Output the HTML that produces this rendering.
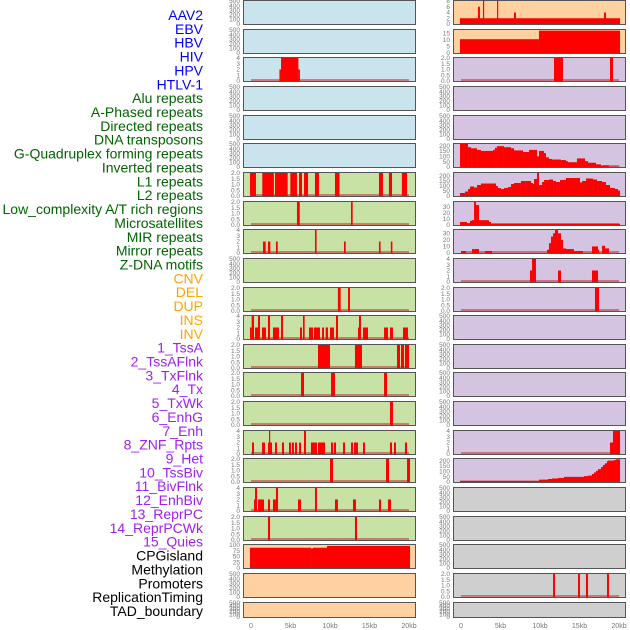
<!DOCTYPE html>
<html><head><meta charset="utf-8"><style>
html,body{margin:0;padding:0;background:#fff;}
svg{display:block;font-family:"Liberation Sans",sans-serif;}
</style></head><body>
<svg id="chart" width="630" height="630" viewBox="0 0 630 630" xmlns="http://www.w3.org/2000/svg"></svg>
<script>
// ---------- labels ----------
const labelNames = ["AAV2","EBV","HBV","HIV","HPV","HTLV-1","Alu repeats","A-Phased repeats","Directed repeats","DNA transposons","G-Quadruplex forming repeats","Inverted repeats","L1 repeats","L2 repeats","Low_complexity A/T rich regions","Microsatellites","MIR repeats","Mirror repeats","Z-DNA motifs","CNV","DEL","DUP","INS","INV","1_TssA","2_TssAFlnk","3_TxFlnk","4_Tx","5_TxWk","6_EnhG","7_Enh","8_ZNF_Rpts","9_Het","10_TssBiv","11_BivFlnk","12_EnhBiv","13_ReprPC","14_ReprPCWk","15_Quies","CPGisland","Methylation","Promoters","ReplicationTiming","TAD_boundary"];
const labelGroups = [0,0,0,0,0,0,1,1,1,1,1,1,1,1,1,1,1,1,1,2,2,2,2,2,3,3,3,3,3,3,3,3,3,3,3,3,3,3,3,4,4,4,4,4];
const groupColors = ["#0000ff","#006400","#ffa500","#a020f0","#000000"];

// ---------- x axis ----------
const xTicks = [0,5,10,15,20];
const xTickLabels = ["0","5kb","10kb","15kb","20kb"];

// ---------- panel backgrounds per row (left, right) ----------
const leftBg  = ["b","b","b","b","b","b","g","g","g","g","g","g","g","g","g","g","g","g","g","o","o","o"];
const rightBg = ["o","o","p","p","p","p","p","p","p","p","p","p","p","p","p","p","p","r","r","r","r","r"];
const bgColors = {b:"#c9e4ec",o:"#ffd0a0",g:"#c8e1a5",p:"#d5c4e1",r:"#cfcfcf"};

// ---------- y maxima per row ----------
const leftYmax  = [500,500,4,500,500,500,2,2,4,500,2,4,2,2,2,4,2,4,2,100,500,500];
const rightYmaxFix = [8,17.5,2,500,500,215,230,38,35,4,2,500,500,500,500,4,215,500,500,500,2,500];

// ---------- bar data (start kb, end kb, value) ----------
const L2_hiv = [[3.6,3.8,2],[3.8,6.0,4],[6.0,6.2,2]];
const L6_l1 = [[-0.13,0.63,2],[1.43,2.9,2],[3.04,4.64,2],[4.98,5.82,2],[6.08,6.46,2],[6.71,7.22,2],[8.1,8.6,2],[10.63,11.2,2],[16.2,16.7,2],[17.46,17.85,2],[19.1,19.75,2]];
const L7_l2 = [[5.82,6.17,2],[12.66,12.87,2]];
const L8_low = [[1.52,1.86,2],[2.15,2.45,2],[3.16,3.38,2],[8.1,8.3,4],[11.77,11.99,2],[16.2,16.4,2],[17.7,17.9,2]];
const L10_mir = [[11.0,11.35,2],[12.28,12.53,2]];
const L11_z = [[-0.13,0.08,2],[0.08,0.38,4],[0.51,0.89,2],[0.89,1.14,4],[1.39,1.9,2],[2.15,2.41,4],[2.78,3.54,2],[3.8,4.05,4],[6.2,6.46,2],[6.58,6.79,4],[7.34,7.85,2],[7.97,8.73,2],[8.99,9.24,2],[9.45,9.75,2],[10.0,10.5,2],[10.76,11.01,4],[13.54,13.67,2],[13.67,13.92,4],[14.18,14.81,2],[16.84,17.34,2],[17.59,17.97,2],[19.24,19.87,2]];
const L12_cnv = [[8.48,10.0,2],[13.16,14.05,2],[18.48,18.86,2],[18.99,19.37,2],[19.49,20.0,2]];
const L13_del = [[6.33,6.71,2],[10.13,10.63,2],[16.84,17.22,2]];
const L14_dup = [[17.59,17.97,2]];
const L15_ins = [[0.13,0.38,2],[1.39,1.77,2],[2.15,2.28,2],[2.28,2.41,4],[2.41,2.66,2],[3.04,3.29,2],[3.92,4.18,2],[4.81,5.06,2],[5.19,5.44,2],[5.57,5.82,2],[6.08,6.33,2],[6.71,6.96,4],[7.59,8.35,2],[8.48,9.37,2],[10.13,10.38,2],[10.5,10.76,2],[11.65,11.9,2],[12.66,12.91,2],[13.04,13.54,2],[14.18,14.43,2],[17.59,17.85,2],[18.1,18.35,2],[19.49,19.75,2]];
const L16_inv = [[10.0,10.38,2],[17.09,17.47,2],[19.75,20.13,2]];
const L17_tssa = [[0.38,0.51,2],[0.51,0.76,4],[0.89,1.65,2],[2.15,2.41,2],[2.78,3.16,2],[3.16,3.42,4],[5.95,6.33,2],[8.1,8.35,4],[10.63,11.01,2],[12.91,13.29,2],[16.2,16.46,2],[17.34,17.72,2]];
const L18_flnk = [[2.15,2.41,2],[13.16,13.42,2]];
const L19_cpg = [[-0.13,7.59,88],[7.59,7.85,85],[7.85,9.62,88],[9.62,20.13,96]];

const R0_aav = [[-0.13,20.13,2],[2.15,2.4,6],[2.78,2.91,8],[4.56,4.68,8],[6.71,6.96,4],[18.1,18.35,4]];
const R1_ebv = [[-0.13,9.87,10.5],[9.87,20.13,17]];
const R2_hiv = [[11.77,12.91,2],[18.86,19.24,2]];
const R9_mir = [[8.73,8.99,2],[8.99,9.49,4],[12.28,12.66,2],[16.58,17.34,2]];
const R10_mirror = [[16.96,17.47,2]];
const R15_znf = [[18.86,19.24,2],[19.24,20.13,4]];
const R20_prom = [[11.65,11.9,2],[14.81,15.06,2],[15.82,16.08,2],[18.48,18.73,2]];

// ---------- step-profile data (starts kb, values) ----------
const R5_starts = [-0.13,0.89,1.27,2.03,2.53,4.05,4.3,4.56,5.44,6.33,6.71,7.85,8.61,9.62,9.87,10.51,10.76,11.14,11.52,12.66,13.29,13.54,14.68,15.7,16.08,17.09,17.72,17.97,18.73];
const R5_vals   = [215,185,175,160,150,160,180,195,185,175,155,140,160,100,150,130,90,75,70,65,55,45,80,55,40,25,10,15,3];
const R6_starts = [-0.13,0.51,0.89,1.14,1.65,2.03,2.53,4.43,4.68,5.06,5.44,5.95,6.33,6.71,7.59,8.86,9.11,9.24,9.62,9.87,10.25,10.51,11.14,11.65,12.03,12.53,13.29,15.06,15.32,15.82,16.71,17.22,17.85,18.35,18.86,19.49,19.87];
const R6_vals   = [30,45,70,95,85,110,125,100,80,70,80,90,120,130,150,130,120,170,230,110,140,160,165,150,140,160,180,135,150,175,165,150,140,110,80,70,55];
const R7_starts = [-0.13,0.76,1.14,1.39,1.65,1.9,2.28,2.91,3.54,3.8];
const R7_vals   = [5,3,7,8,38,33,8,8,5,2];
const R8_starts = [0,0.63,1.39,2.28,3.04,3.92,10.89,11.14,11.39,11.65,11.9,12.28,12.66,12.91,13.29,14.3,15.44,16.58,17.34,17.47,17.85,18.23,18.73];
const R8_vals   = [3,0,6,0,3,0,5,15,25,30,35,30,20,7,6,3,0,10,5,0,11,7,0];
const R16_starts = [-0.13,9.87,11.01,11.52,12.28,13.04,15.57,16.08,16.58,16.84,17.09,17.34,17.72,17.97,18.23,18.48,18.61,19.37,19.62];
const R16_vals   = [12,22,28,33,38,48,55,60,75,90,105,120,140,160,175,195,200,205,212];
const stepEnd = 20.13;

// ---------- tick sets ----------
const ticks500 = [0,100,200,300,400,500];
const ticks2 = [0,0.5,1,1.5,2];
const ticks4 = [0,1,2,3,4];

function steps(starts, vals){
  const out=[];
  for(let i=0;i<starts.length;i++){
    const e = i<starts.length-1 ? starts[i+1] : stepEnd;
    if(vals[i]>0) out.push([starts[i],e,vals[i]]);
  }
  return out;
}

const leftBars = {2:L2_hiv,6:L6_l1,7:L7_l2,8:L8_low,10:L10_mir,11:L11_z,12:L12_cnv,13:L13_del,14:L14_dup,15:L15_ins,16:L16_inv,17:L17_tssa,18:L18_flnk,19:L19_cpg};
const rightBars = {0:R0_aav,1:R1_ebv,2:R2_hiv,5:steps(R5_starts,R5_vals),6:steps(R6_starts,R6_vals),7:steps(R7_starts,R7_vals),8:steps(R8_starts,R8_vals),9:R9_mir,10:R10_mirror,15:R15_znf,16:steps(R16_starts,R16_vals),20:R20_prom};
const leftBase = [2,6,7,8,10,11,12,13,14,15,16,17,18];
const rightBase = [2,5,7,8,9,10,15,20];

const leftTicks = {0:ticks500,1:ticks500,2:ticks4,3:ticks500,4:ticks500,5:ticks500,6:ticks2,7:ticks2,8:ticks4,9:ticks500,10:ticks2,11:ticks4,12:ticks2,13:ticks2,14:ticks2,15:ticks4,16:ticks2,17:ticks4,18:ticks2,19:[0,25,50,75,100],20:ticks500,21:ticks500};
const rightTicks = {0:[0,2,4,6,8],1:[0,5,10,15],2:ticks2,3:ticks500,4:ticks500,5:[0,50,100,150,200],6:[0,50,100,150,200],7:[0,10,20,30],8:[0,10,20,30],9:ticks4,10:ticks2,11:ticks500,12:ticks500,13:ticks500,14:ticks500,15:ticks4,16:[0,50,100,150,200],17:ticks500,18:ticks500,19:ticks500,20:ticks2,21:ticks500};

const svg = document.getElementById('chart');
const NS = "http://www.w3.org/2000/svg";
function mk(tag, attrs, parent){
  const el = document.createElementNS(NS, tag);
  for(const k in attrs) el.setAttribute(k, attrs[k]);
  (parent||svg).appendChild(el);
  return el;
}

labelNames.forEach((n,i)=>{
  const t = mk('text',{x:203,y:15+i*13.86+5,'text-anchor':'end','font-size':14,fill:groupColors[labelGroups[i]]});
  t.textContent = n;
  
  
});

const cols = [{x:243,w:173,x0:251},{x:453,w:173,x0:461}];
const kbPx = 7.9;
function rowTop(i){ return Math.round(i*28.65); }
function rowH(i){ return i===21 ? 16 : 25; }

for(let c=0;c<2;c++){
  const col = cols[c];
  const xs = kb => col.x0 + kb*kbPx;
  for(let r=0;r<22;r++){
    const T = rowTop(r), H = rowH(r);
    const bg = c===0 ? leftBg[r] : rightBg[r];
    const ymax = c===0 ? leftYmax[r] : rightYmaxFix[r];
    const ys = v => T+H-1 - v/ymax*(H-2);
    const g = mk('g',{});
    
    
    const bgR = mk('rect',{x:col.x,y:T,width:col.w,height:H,fill:bgColors[bg]},g);
    
    
    const base = c===0 ? leftBase : rightBase;
    if(base.includes(r)){
      const bl = mk('rect',{x:xs(0),y:T+H-3,width:20*kbPx,height:2,fill:'#c04040',opacity:0.6},g);
      
      
    }
    const bars = (c===0 ? leftBars : rightBars)[r] || [];
    bars.forEach(b=>{
      const y = ys(b[2]);
      const x1 = xs(b[0]), x2 = xs(b[1]);
      const br = mk('rect',{x:x1,y:y,width:Math.max(1.2,x2-x1),height:T+H-1-y,fill:'#ff0000'},g);
      
      
    });
    const fr = mk('rect',{x:col.x+0.5,y:T+0.5,width:col.w-1,height:H-1,fill:'none',stroke:'#555',"stroke-width":1},g);
    
    
    const tk = (c===0 ? leftTicks : rightTicks)[r];
    tk.forEach(v=>{
      const t = mk('text',{x:col.x-3,y:ys(v)+2.2,'text-anchor':'end','font-size':6.5,fill:'#777'},g);
      t.textContent = String(v) + (ymax===2 && v%1===0 ? '.0' : '');
      
      
    });
  }
  xTicks.forEach((v,i)=>{
    const t = mk('text',{x:xs(v),y:628,'text-anchor':'middle','font-size':7,fill:'#777'});
    t.textContent = xTickLabels[i];
    
    
  });
}
</script>
</body></html>
